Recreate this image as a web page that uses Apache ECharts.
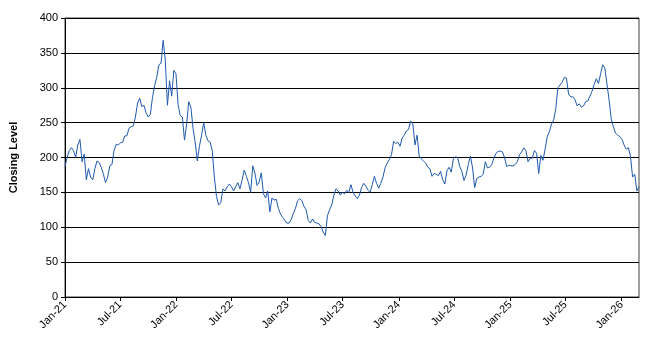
<!DOCTYPE html>
<html>
<head>
<meta charset="utf-8">
<script src="https://cdn.jsdelivr.net/npm/echarts@6/dist/echarts.min.js"></script>
<style>
  html, body { margin: 0; padding: 0; background: #fff; }
  #chart { width: 649px; height: 344px; }
</style>
</head>
<body>
<div id="chart"></div>
<script>
// Weekly closing levels, one value per Friday starting 1 Jan 2021
const firstWeek = '2021-01-01';
const closingLevels = [
  187, 200, 210, 214, 210, 200, 218, 226, 194, 205,
  168, 184, 172, 168, 184, 195, 193, 186, 176, 164,
  172, 188, 190, 210, 219, 218, 221, 222, 231, 231,
  242, 244, 245, 258, 278, 285, 273, 275, 264, 258,
  262, 286, 303, 315, 333, 335, 368, 340, 275, 310,
  288, 325, 320, 276, 260, 258, 225, 248, 280, 272,
  242, 222, 195, 216, 232, 250, 232, 224, 222, 210,
  172, 144, 132, 135, 155, 152, 158, 162, 158, 152,
  158, 164, 155, 168, 182, 173, 164, 150, 188, 178,
  160, 165, 178, 148, 142, 152, 122, 142, 139, 140,
  127, 119, 114, 110, 106, 106, 111, 120, 127, 138,
  141, 138, 130, 125, 110, 106, 112, 107, 106, 105,
  101, 93, 88, 117, 125, 132, 146, 155, 152, 146,
  150, 148, 153, 150, 161, 150, 145, 141, 146, 157,
  163, 159, 153, 150, 161, 173, 163, 156, 163, 172,
  185, 192, 197, 204, 223, 220, 222, 216, 228, 232,
  238, 240, 252, 249, 218, 232, 202, 198, 195, 192,
  186, 184, 173, 177, 176, 174, 180, 168, 162, 181,
  186, 179, 198, 201, 200, 187, 180, 167, 175, 190,
  202, 185, 157, 170, 172, 173, 176, 194, 185, 186,
  190, 199, 206, 209, 209, 208, 200, 187, 189, 188,
  188, 190, 194, 204, 208, 214, 210, 194, 199, 199,
  210, 206, 177, 203, 196, 212, 230, 237, 248, 254,
  270, 300, 304, 308, 315, 314, 291, 287, 287, 283,
  274, 277, 272, 274, 280, 281, 288, 295, 305, 313,
  306, 320, 333, 328, 305, 282, 255, 244, 235, 232,
  230, 226, 218, 212, 214, 202, 172, 176, 152, 158
];
const xAxisEnd = '2026-02-27';
const tickDates = [
  '2021-01-01', '2021-07-01', '2022-01-01', '2022-07-01', '2023-01-01', '2023-07-01',
  '2024-01-01', '2024-07-01', '2025-01-01', '2025-07-01', '2026-01-01'
];
const yTicks = [0, 50, 100, 150, 200, 250, 300, 350, 400];
const yTitle = 'Closing Level';

const monthNames = ['Jan','Feb','Mar','Apr','May','Jun','Jul','Aug','Sep','Oct','Nov','Dec'];
const toTime = s => {
  const [y, m, d] = s.split('-').map(Number);
  return Date.UTC(y, m - 1, d);
};
const DAY = 86400000;
const start = toTime(firstWeek);
const seriesData = closingLevels.map((v, i) => [start + i * 7 * DAY, v]);
const tickValues = tickDates.map(toTime);

const fontFamily = '"Liberation Sans", Arial, sans-serif';

const chart = echarts.init(document.getElementById('chart'), null, { renderer: 'canvas' });
chart.setOption({
  animation: false,
  backgroundColor: '#ffffff',
  grid: {
    left: 63, top: 18, right: 10, bottom: 47,
    show: true, borderColor: '#404040', borderWidth: 1, backgroundColor: 'transparent'
  },
  xAxis: {
    type: 'value',
    min: start,
    max: toTime(xAxisEnd),
    axisLine: { show: true, lineStyle: { color: '#000', width: 1 } },
    axisTick: {
      show: true, length: 4, inside: false,
      customValues: tickValues,
      lineStyle: { color: '#000' }
    },
    axisLabel: {
      customValues: tickValues,
      rotate: 45,
      margin: 6,
      fontFamily, fontSize: 11, color: '#000',
      formatter: v => {
        const d = new Date(v);
        return monthNames[d.getUTCMonth()] + '-' + String(d.getUTCFullYear()).slice(2);
      }
    },
    splitLine: { show: false }
  },
  yAxis: {
    type: 'value',
    min: yTicks[0],
    max: yTicks[yTicks.length - 1],
    interval: 50,
    name: yTitle,
    nameLocation: 'middle',
    nameGap: 46,
    nameRotate: 90,
    nameTextStyle: { fontFamily, fontSize: 11, fontWeight: 'bold', color: '#000' },
    axisLine: { show: true, lineStyle: { color: '#000', width: 1 } },
    axisTick: { show: true, length: 4, lineStyle: { color: '#000' } },
    axisLabel: { fontFamily, fontSize: 11, color: '#000', margin: 7 },
    splitLine: { show: true, lineStyle: { color: '#000', width: 1 } }
  },
  series: [{
    type: 'line',
    data: seriesData,
    showSymbol: false,
    symbol: 'none',
    lineStyle: { color: '#1f5aad', width: 1 },
    z: 3
  }]
});
</script>
</body>
</html>
